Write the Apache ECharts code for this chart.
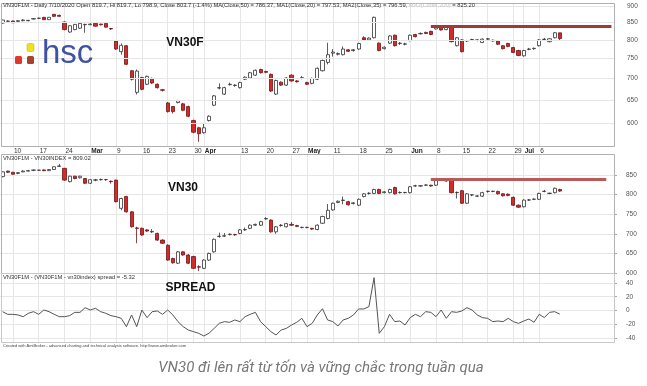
<!DOCTYPE html>
<html><head><meta charset="utf-8">
<script src="https://cdn.jsdelivr.net/npm/echarts@6/dist/echarts.min.js"></script>
<style>html,body{margin:0;padding:0;background:#fff}#c{width:647px;height:386px}</style>
</head><body><div id="c"></div>
<script>
// ---------- DATA ----------
const tradingDates = ['02-06','02-07','02-10','02-11','02-12','02-13','02-14','02-17','02-18','02-19','02-20','02-21','02-24','02-25','02-26','02-27','02-28',
'03-02','03-03','03-04','03-05','03-06','03-09','03-10','03-11','03-12','03-13','03-16','03-17','03-18','03-19','03-20','03-23','03-24','03-25','03-26','03-27','03-30','03-31',
'04-01','04-03','04-06','04-07','04-08','04-09','04-10','04-13','04-14','04-15','04-16','04-17','04-20','04-21','04-22','04-23','04-24','04-27','04-28','04-29',
'05-04','05-05','05-06','05-07','05-08','05-11','05-12','05-13','05-14','05-15','05-18','05-19','05-20','05-21','05-22','05-25','05-26','05-27','05-28','05-29',
'06-01','06-02','06-03','06-04','06-05','06-08','06-09','06-10','06-11','06-12','06-15','06-16','06-17','06-18','06-19','06-22','06-23','06-24','06-25','06-26','06-29','06-30',
'07-01','07-02','07-03','07-06','07-07','07-08','07-09','07-10'];
const blankDates = ['07-13','07-14','07-15','07-16','07-17','07-20','07-21','07-22','07-23','07-24'];
const tickDates = ['02-10','02-17','02-24','03-02','03-09','03-16','03-23','03-30','04-01','04-13','04-20','04-27','05-04','05-11','05-18','05-25','06-01','06-08','06-15','06-22','06-29','07-01','07-06'];
const tickTexts = ['10','17','24','Mar','9','16','23','30','Apr','13','20','27','May','11','18','25','Jun','8','15','22','29','Jul','6'];
const monthTicks = ['Mar','Apr','May','Jun','Jul'];

// [open, close, low, high]
const vn30fCandles = [
[848,857,846,858],[853,854,851,856],[854,849,848,855],[853,855,851,856],[855,857,853,859],[855,856,853,857],[860,861,859,862],[862,862.5,861,864],[865,858,857,866],[858,865,857,866],
[874,868,866,875],[871,868,867,873],[851,829,827,853],[822,840,820,842],[829,844,827,845],[833,847,831,848],[843,844,820,846],[843,845,842,847],[847,839,838,848],[845,843,841,846],
[847,836,835,848],[832,831,828,834],[797,775,773,799],[768,785,760,790],[784,735,733,786],[719,698,695,720],[667,718,662,722],[702,674,672,704],[686,705,684,707],[700,689,687,702],
[686,678,676,688],[673,672,669,675],[643,624,622,645],[635,624,620,636],[644,648,642,650],[641,627,625,643],[635,614,612,637],[605,581,579,607],[590,578,562,592],[580,590,578,600],
[605,614,603,616],[638,659,636,661],[677,678,674,688],[663,678,661,680],[685,686,683,690],[683,684,680,686],[678,690,676,692],[698,703,696,705],[701,714,699,716],[708,720,706,722],
[722,714,712,724],[717,715,713,719],[710,670,668,712],[663,695,661,697],[691,684,682,693],[684,701,682,703],[708,694,692,710],[694,692,690,696],[700,702,698,706],[690,686,684,692],
[688,700,686,702],[698,725,696,727],[719,745,717,747],[740,760,735,792],[764,767,755,775],[761,763,758,766],[760,775,758,782],[773,769,767,775],[771,773,768,775],[775,790,773,792],
[806,800,798,810],[800,805,798,807],[806,865,804,867],[791,771,769,793],[776,780,774,782],[791,811,789,813],[813,784,782,815],[790,791,786,794],[788,789,785,792],[798,813,796,815],
[815,809,807,817],[817,818,815,821],[821,818,816,823],[824,815,813,826],[831,838,829,842],[836,828,826,838],[829,838,827,840],[836,795,793,838],[784,806,782,808],[800,768,766,802],
[797,798,794,800],[800,801,797,803],[799,800,796,802],[793,802,791,804],[802,803,799,805],[797,799,795,801],[797,788,786,799],[784,776,774,786],[790,782,780,792],[779,766,764,781],
[771,758,756,773],[757,771,755,773],[774,775,772,778],[776,777,773,779],[784,800,782,802],[801,802,798,805],[795,803,793,805],[806,820,804,822],[819.7,803.7,798.9,819.7]];

const vn30Candles = [
[846,858,844,859],[860,857,855,861],[857,852,851,858],[854,856,852,857],[858,860,857,862],[860,861,859,863],[862,862.5,860,864],[862,862.5,861,863],[863,861,860,864],[861,864,860,865],
[864,871,863,872],[872,873,871,878],[867,837,835,868],[833,847,831,848],[847,841,839,848],[843,847,841,848],[841,829,827,842],[829,838,827,839],[837,837.5,834,840],[838,838.5,836,841],
[838,838.5,835,840],[834,833,828,836],[837,782,780,838],[765,790,760,792],[795,756,754,797],[756,718,716,758],[715,714,676,718],[714,697,695,716],[710,707,705,712],[705,706,702,712],
[701,684,682,703],[684,676,674,686],[671,633,631,673],[637,626,624,639],[625,654,623,656],[654,646,644,656],[646,625,623,648],[642,612,610,644],[616,615,605,620],[612,633,610,635],
[633,650,631,652],[654,686,652,688],[693,694,690,703],[694,695,692,702],[698,699,696,701],[698,697.5,695,700],[701,710,699,712],[710,711,708,716],[714,722,712,724],[722,724,720,726],
[722,731,720,733],[738,739,736,742],[735,705,703,737],[705,718,700,720],[721,722,718,725],[718,726,716,728],[724,722,720,730],[721,719,717,723],[716,716.5,714,718],[716,716.5,714,718],
[714,712,710,715],[711,722,709,724],[727,744,725,746],[739,760,737,776],[761,778,759,780],[780,783,778,785],[785,786,775,795],[782,774,772,784],[777,779,775,781],[773,788,771,790],
[795,802,793,804],[803,803.5,800,806],[803,813,801,815],[813,803,801,815],[805,807,803,809],[805,813,803,815],[818,802,800,820],[805,805.5,803,808],[805,805.5,803,807],[805,820,803,822],
[822,822.5,820,825],[822,822.5,820,824],[824,824.5,822,826],[824,822,820,825],[824,837,822,839],[838,839,836,842],[835,835.5,833,837],[837,805,803,839],[805,805.5,790,808],[810,778,776,812],
[778,802,776,804],[799,799.5,796,801],[796,796.5,794,798],[796,805,794,807],[808,808.5,805,810],[808,808.5,806,810],[808,802,800,810],[802,797,795,804],[801,798,796,803],[793,773,771,795],
[773,768,766,775],[769,786,767,788],[786,786.5,784,789],[788,788.5,786,790],[788,803,786,805],[808,808.5,806,812],[803,803.5,801,805],[805,816,803,818],[813,809.02,807,815]];

const spreadValues = [
-1.7,-5.6,-5.6,-6.5,-9,-4.1,-1.7,-5.6,0.7,-1.7,
-5.6,-9,-9,-7.5,-2.7,-2.7,4.1,0.7,3.2,-1.7,
-4.1,-7.5,-9,-11.4,-23.5,-6.5,-23.5,0.7,-10.4,-1.7,
-0.7,-5.6,0.7,-6.5,-16.2,-23.5,-28.4,-30.8,-33.2,-37.1,
-33.2,-26,-18.7,-16.2,-17.2,-13.8,-16.2,-9,-5.6,-2.7,
-16.2,-23.5,-30.8,-35.6,-28.4,-26,-21.1,-17.2,-11.4,-23.5,
-18.7,-6.5,2.6,-13.8,-16.2,-22.5,-13.8,-11.4,-6.5,2.2,
2.2,5.6,47.8,-33.2,-23.5,-5.6,-16.2,-15.3,-21.1,-10.4,
-5.6,-9,-1.7,-2.7,-9,0.7,-11.4,-1.7,-2.7,-0.7,
4.1,0.7,-6.5,-10.4,-11.4,-16.2,-15.3,-16.2,-11.4,-16.2,
-18.7,-15.3,-12.4,-17.2,-5.6,-10.4,-2.7,-1.7,-5.32];

const vn30fTicks = [600,650,700,750,800,850,900];
const vn30Ticks = [600,650,700,750,800,850];
const spreadTicks = [-40,-20,0,20,40];
const resistanceLevel = 838;
const resistanceStart = '06-05';
const lastF = 803.7, lastIdx = 809.02, lastSpread = -5.32;
const lastFText = '803.7', lastIdxText = '809.02', lastSpreadText = '-5.32001';

// ---------- CHART ----------
const cats = tradingDates.concat(blankDates);
const tickMap = {};
tickDates.forEach((d, i) => { tickMap[d] = tickTexts[i]; });
const isTick = (i, v) => Object.prototype.hasOwnProperty.call(tickMap, cats[i]);
const FF = '"Liberation Sans", Arial, sans-serif';
const gridColor = '#e6e6e6';

function xAxis(gi, showLabel) {
  return {
    type: 'category', gridIndex: gi, data: cats, boundaryGap: true,
    axisLine: {show: false}, axisTick: {show: false},
    axisLabel: {
      show: showLabel, interval: isTick, margin: 1, fontSize: 6.5, color: '#333', fontFamily: FF,
      align: 'left', padding: [0, 0, 0, 1],
      formatter: (v) => { const t = tickMap[v] || ''; return monthTicks.includes(t) ? '{b|' + t + '}' : t; },
      rich: {b: {fontWeight: 'bold', fontSize: 6.5, color: '#222', fontFamily: FF}}
    },
    splitLine: {show: true, interval: isTick, alignWithLabel: true, lineStyle: {color: gridColor, width: 1}}
  };
}
function yAxisLinear(gi, min, max, ticks) {
  return {
    type: 'value', gridIndex: gi, position: 'right', min, max, scale: true,
    axisLine: {show: false},
    axisTick: {show: true, customValues: ticks, length: 3, lineStyle: {color: '#aaa'}},
    axisLabel: {customValues: ticks, fontSize: 6.5, color: '#555', margin: 12, fontFamily: FF},
    splitLine: {show: true, lineStyle: {color: gridColor, width: 1}}
  };
}
function tag(text) {
  return {show: true, position: 'end', distance: 3, formatter: text, backgroundColor: '#111', color: '#fff',
    fontSize: 6, fontFamily: FF, padding: [1, 2, 1, 2], borderRadius: 1};
}
const candleStyle = {color: '#ffffff', color0: '#d42a2a', borderColor: '#333333', borderColor0: '#6e1414', borderWidth: 0.8};

const chart = echarts.init(document.getElementById('c'), null, {renderer: 'canvas'});
chart.setOption({
  animation: false,
  backgroundColor: '#ffffff',
  grid: [
    {left: 0, top: 3, width: 614, height: 144},
    {left: 0, top: 155, width: 614, height: 119},
    {left: 0, top: 274, width: 614, height: 69}
  ],
  xAxis: [xAxis(0, true), xAxis(1, false), xAxis(2, false)],
  yAxis: [
    {type: 'log', gridIndex: 0, position: 'right', min: 552, max: 909, logBase: 10,
     axisLine: {show: false}, axisTick: {show: false}, axisLabel: {show: false}, splitLine: {show: false}},
    yAxisLinear(1, 597.5, 901, vn30Ticks),
    yAxisLinear(2, -47.3, 53.1, spreadTicks)
  ],
  series: [
    {type: 'line', xAxisIndex: 0, yAxisIndex: 0, data: [], z: 1, silent: true,
     markLine: {silent: true, symbol: 'none', animation: false,
       lineStyle: {color: gridColor, width: 1, type: 'solid'},
       label: {position: 'end', distance: 13, formatter: (p) => String(p.value), fontSize: 6.5, color: '#555', fontFamily: FF},
       data: vn30fTicks.map(v => ({yAxis: v}))}},
    {type: 'candlestick', name: 'VN30F1M', xAxisIndex: 0, yAxisIndex: 0, data: vn30fCandles, barWidth: 3.6, z: 3,
     itemStyle: candleStyle,
     markLine: {silent: true, symbol: 'none', animation: false,
       data: [
         [{coord: [resistanceStart, resistanceLevel], lineStyle: {color: '#9c3b3b', width: 3, type: 'solid'}, label: {show: false}},
          {coord: [cats[cats.length - 1], resistanceLevel]}],
         {yAxis: lastF, lineStyle: {opacity: 0}, label: tag(lastFText)}
       ]}},
    {type: 'candlestick', name: 'VN30', xAxisIndex: 1, yAxisIndex: 1, data: vn30Candles, barWidth: 3.6, z: 3,
     itemStyle: candleStyle,
     markLine: {silent: true, symbol: 'none', animation: false,
       data: [
         [{coord: [resistanceStart, resistanceLevel], lineStyle: {color: '#b95a5a', width: 3, type: 'solid'}, label: {show: false}},
          {coord: [cats[cats.length - 2], resistanceLevel]}],
         {yAxis: lastIdx, lineStyle: {opacity: 0}, label: tag(lastIdxText)}
       ]}},
    {type: 'line', name: 'spread', xAxisIndex: 2, yAxisIndex: 2, data: spreadValues, symbol: 'none', z: 3,
     lineStyle: {color: '#555555', width: 1},
     markLine: {silent: true, symbol: 'none', animation: false,
       data: [{yAxis: lastSpread, lineStyle: {opacity: 0}, label: tag(lastSpreadText)}]}}
  ],
  graphic: [
    {type: 'rect', silent: true, z: 100, shape: {x: 1.5, y: 3.5, width: 613, height: 143}, style: {fill: 'none', stroke: '#b0b0b0', lineWidth: 1}},
    {type: 'rect', silent: true, z: 100, shape: {x: 1.5, y: 154.5, width: 613, height: 119}, style: {fill: 'none', stroke: '#b0b0b0', lineWidth: 1}},
    {type: 'rect', silent: true, z: 100, shape: {x: 1.5, y: 273.5, width: 613, height: 69}, style: {fill: 'none', stroke: '#c8c8c8', lineWidth: 1}},
    {type: 'text', silent: true, z: 100, style: {x: 3, y: 5.5, text: 'VN30F1M - Daily 7/10/2020 Open 819.7, Hi 819.7, Lo 798.9, Close 803.7 (-1.4%) MA(Close,50) = 786.37, MA1(Close,20) = 797.53, MA2(Close,35) = 796.59, {f|MA3(Close,200)} = 825.20',
      font: '5.8px ' + FF, fill: '#333', verticalAlign: 'middle', textVerticalAlign: 'middle', rich: {f: {fill: '#c4c4c4', font: '5.8px ' + FF}}}},
    {type: 'text', silent: true, z: 100, style: {x: 3, y: 158.5, text: 'VN30F1M - VN30INDEX = 809.02', font: '5.8px ' + FF, fill: '#333', verticalAlign: 'middle', textVerticalAlign: 'middle'}},
    {type: 'text', silent: true, z: 100, style: {x: 3, y: 277.5, text: 'VN30F1M - (VN30F1M - vn30index) spread = -5.32', font: '5.8px ' + FF, fill: '#333', verticalAlign: 'middle', textVerticalAlign: 'middle'}},
    {type: 'text', silent: true, z: 100, style: {x: 185, y: 43, text: 'VN30F', font: 'bold 12px ' + FF, fill: '#111', align: 'center', textAlign: 'center', verticalAlign: 'middle', textVerticalAlign: 'middle'}},
    {type: 'text', silent: true, z: 100, style: {x: 183, y: 187.5, text: 'VN30', font: 'bold 12px ' + FF, fill: '#111', align: 'center', textAlign: 'center', verticalAlign: 'middle', textVerticalAlign: 'middle'}},
    {type: 'text', silent: true, z: 100, style: {x: 190.5, y: 287.5, text: 'SPREAD', font: 'bold 12px ' + FF, fill: '#111', align: 'center', textAlign: 'center', verticalAlign: 'middle', textVerticalAlign: 'middle'}},
    {type: 'rect', silent: true, z: 100, shape: {x: 27, y: 43.5, width: 7, height: 8, r: 1.5}, style: {fill: '#efe020', stroke: '#c9b81a', lineWidth: 0.6}},
    {type: 'rect', silent: true, z: 100, shape: {x: 15, y: 56, width: 7, height: 8, r: 1.5}, style: {fill: '#e0382e'}},
    {type: 'rect', silent: true, z: 100, shape: {x: 27, y: 56, width: 7, height: 8, r: 1.5}, style: {fill: '#a5442e'}},
    {type: 'text', silent: true, z: 100, style: {x: 42, y: 53.5, text: 'hsc', font: '33px ' + FF, fill: '#3f51a3', verticalAlign: 'middle', textVerticalAlign: 'middle'}},
    {type: 'text', silent: true, z: 100, style: {x: 3, y: 345.5, text: 'Created with AmiBroker - advanced charting and technical analysis software. http://www.amibroker.com', font: '4px ' + FF, fill: '#444', verticalAlign: 'middle', textVerticalAlign: 'middle'}},
    {type: 'text', silent: true, z: 100, style: {x: 321, y: 368, text: 'VN30 đi lên rất từ tốn và vững chắc trong tuần qua', font: 'italic 15px Roboto, "Open Sans", sans-serif', fill: '#777', align: 'center', textAlign: 'center', verticalAlign: 'middle', textVerticalAlign: 'middle'}}
  ]
});
</script>
</body></html>
